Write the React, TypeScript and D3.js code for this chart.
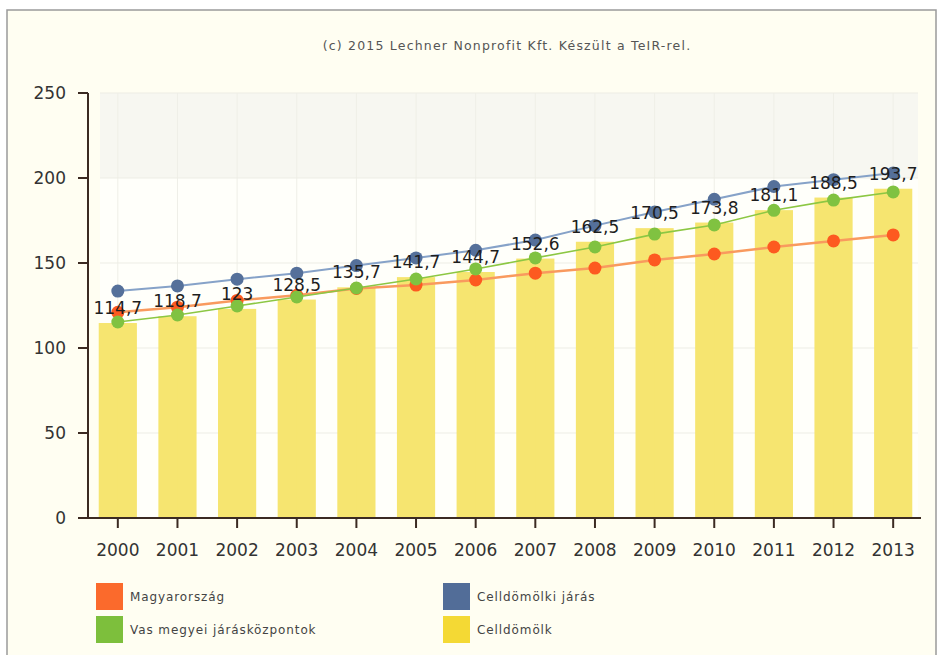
import React, { useEffect, useRef } from 'react';
import * as d3 from 'd3';

const years = ['2000', '2001', '2002', '2003', '2004', '2005', '2006', '2007', '2008', '2009', '2010', '2011', '2012', '2013'];
const celldomolk = [114.7, 118.7, 123, 128.5, 135.7, 141.7, 144.7, 152.6, 162.5, 170.5, 173.8, 181.1, 188.5, 193.7];
const celldomolkiJaras = [133.5, 136.5, 140.5, 144, 148.5, 153, 157.5, 163.5, 172, 180, 187.5, 195, 199, 203];
const vasMegyei = [115.3, 119.4, 124.7, 130, 135.3, 140.6, 146.5, 153, 159.4, 167, 172.4, 181, 187, 191.8];
const magyarorszag = [121, 124, 128, 131, 135, 137, 140, 144, 147, 151.8, 155.3, 159.4, 163, 166.5];
const yTicks = [0, 50, 100, 150, 200, 250];

const legendItems = [
  { name: 'Magyarország', color: '#fb6a2c' },
  { name: 'Celldömölki járás', color: '#526d98' },
  { name: 'Vas megyei járásközpontok', color: '#7dbf3c' },
  { name: 'Celldömölk', color: '#f4d934' },
];

const W = 940;
const H = 655;

const App: React.FC = () => {
  const ref = useRef<SVGSVGElement>(null);

  useEffect(() => {
    if (!ref.current) return;
    document.body.style.margin = '0';
    const svg = d3.select(ref.current);
    svg.selectAll('*').remove();

    const font = '"DejaVu Sans", Verdana, sans-serif';
    const left = 88, right = 923, top = 93, bottom = 518;

    const x = d3.scaleBand<string>().domain(years).range([left, right]).paddingInner(0.36).paddingOuter(0.18);
    const y = d3.scaleLinear().domain([0, 250]).range([bottom, top]);
    const cx = (d: string) => (x(d) as number) + x.bandwidth() / 2;

    // frame
    svg.append('rect').attr('width', W).attr('height', H).attr('fill', '#ffffff');
    svg.append('rect')
      .attr('x', 7).attr('y', 10).attr('width', 929).attr('height', 700)
      .attr('fill', '#fffef2').attr('stroke', '#9a9a9a').attr('stroke-width', 1.5);

    svg.append('text')
      .attr('x', 507).attr('y', 50)
      .attr('text-anchor', 'middle')
      .attr('font-family', font).attr('font-size', 12.5)
      .attr('letter-spacing', 1.2)
      .attr('fill', '#555')
      .text('(c) 2015 Lechner Nonprofit Kft. Készült a TeIR-rel.');

    // plot background & grid
    svg.append('rect')
      .attr('x', 100).attr('y', y(250)).attr('width', right - 5 - 100).attr('height', bottom - y(250))
      .attr('fill', '#fffffa');
    svg.append('rect')
      .attr('x', 100).attr('y', y(250)).attr('width', right - 5 - 100).attr('height', y(200) - y(250))
      .attr('fill', '#f7f7f1');

    svg.append('g').selectAll('line.v').data(years).enter().append('line')
      .attr('x1', cx).attr('x2', cx).attr('y1', y(250)).attr('y2', bottom)
      .attr('stroke', '#efefe7').attr('stroke-width', 1);

    svg.append('g').selectAll('line.h').data(yTicks.slice(1)).enter().append('line')
      .attr('x1', 100).attr('x2', right - 5).attr('y1', d => y(d)).attr('y2', d => y(d))
      .attr('stroke', '#ededE5').attr('stroke-width', 1);

    // bars
    svg.append('g').selectAll('rect').data(celldomolk).enter().append('rect')
      .attr('x', (_, i) => x(years[i]) as number)
      .attr('y', d => y(d))
      .attr('width', x.bandwidth())
      .attr('height', d => bottom - y(d))
      .attr('fill', '#f5e468').attr('fill-opacity', 0.95);

    // lines + points
    const series = [
      { values: magyarorszag, line: '#f99a5e', point: '#fd5a20', width: 2.5 },
      { values: vasMegyei, line: '#8cc743', point: '#80c241', width: 1.6 },
      { values: celldomolkiJaras, line: '#86a2c8', point: '#55709a', width: 2 },
    ];
    const lineGen = d3.line<number>().x((_, i) => cx(years[i])).y(d => y(d));
    series.forEach(s => {
      svg.append('path').datum(s.values)
        .attr('d', lineGen).attr('fill', 'none')
        .attr('stroke', s.line).attr('stroke-width', s.width);
      svg.append('g').selectAll('circle').data(s.values).enter().append('circle')
        .attr('cx', (_, i) => cx(years[i])).attr('cy', d => y(d)).attr('r', 6.5)
        .attr('fill', s.point);
    });

    // value labels
    const fmt = (v: number) => String(v).replace('.', ',');
    svg.append('g').selectAll('text').data(celldomolk).enter().append('text')
      .attr('x', (_, i) => cx(years[i]))
      .attr('y', d => y(d) - 9)
      .attr('text-anchor', 'middle')
      .attr('font-family', font).attr('font-size', 17)
      .attr('fill', '#1e1e1e')
      .text(fmt);

    // axes
    const axisColor = '#3b2a22';
    svg.append('line').attr('x1', left).attr('x2', left).attr('y1', top).attr('y2', bottom)
      .attr('stroke', axisColor).attr('stroke-width', 2);
    svg.append('line').attr('x1', 78).attr('x2', right - 2).attr('y1', bottom).attr('y2', bottom)
      .attr('stroke', axisColor).attr('stroke-width', 2);

    const yAxisG = svg.append('g');
    yAxisG.selectAll('line').data(yTicks).enter().append('line')
      .attr('x1', 78).attr('x2', left).attr('y1', d => y(d)).attr('y2', d => y(d))
      .attr('stroke', axisColor).attr('stroke-width', 2);
    yAxisG.selectAll('text').data(yTicks).enter().append('text')
      .attr('x', 66).attr('y', d => y(d)).attr('dy', '0.36em')
      .attr('text-anchor', 'end')
      .attr('font-family', font).attr('font-size', 17)
      .attr('fill', '#333')
      .text(d => d);

    const xAxisG = svg.append('g');
    xAxisG.selectAll('line').data(years).enter().append('line')
      .attr('x1', cx).attr('x2', cx).attr('y1', bottom).attr('y2', bottom + 10)
      .attr('stroke', axisColor).attr('stroke-width', 2);
    xAxisG.selectAll('text').data(years).enter().append('text')
      .attr('x', cx).attr('y', 556)
      .attr('text-anchor', 'middle')
      .attr('font-family', font).attr('font-size', 17)
      .attr('fill', '#333')
      .text(d => d);

    // legend
    const legend = svg.append('g');
    legendItems.forEach((item, i) => {
      const lx = i % 2 === 0 ? 96 : 443;
      const ly = i < 2 ? 583 : 616;
      legend.append('rect').attr('x', lx).attr('y', ly).attr('width', 27).attr('height', 27)
        .attr('fill', item.color);
      legend.append('text').attr('x', lx + 34).attr('y', ly + 14).attr('dy', '0.35em')
        .attr('font-family', font).attr('font-size', 12).attr('letter-spacing', 0.9)
        .attr('fill', '#444')
        .text(item.name);
    });
  }, []);

  return <svg ref={ref} width={W} height={H} style={{ display: 'block' }} />;
};

export default App;
